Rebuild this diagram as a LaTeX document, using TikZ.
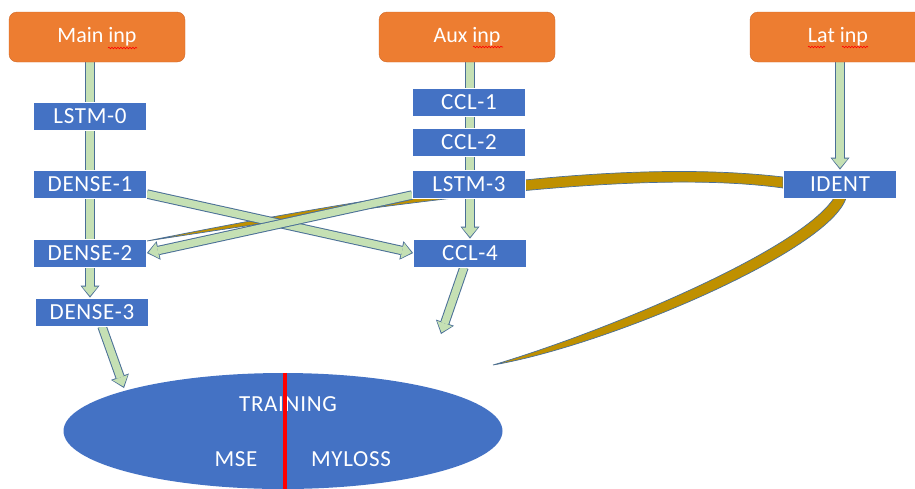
\documentclass[tikz,border=0pt]{standalone}
\usepackage{fontspec}
\setmainfont{Carlito}
\newfontfamily\boxfont[LetterSpace=3]{Carlito}
\usetikzlibrary{arrows.meta,shapes.geometric,backgrounds,decorations.pathmorphing}

\definecolor{inorange}{HTML}{ED7D31}
\definecolor{inedge}{HTML}{D0692A}
\definecolor{layerblue}{HTML}{4472C4}
\definecolor{flowgreen}{HTML}{C5E0B4}
\definecolor{flowedge}{HTML}{4A6F96}
\definecolor{skipgold}{HTML}{BF9000}

\tikzset{
	inbox/.style={draw=inedge, fill=inorange, rounded corners=8pt, minimum width=176pt, minimum height=50pt, text=white, font=\fontsize{22}{24}\selectfont},
	layer/.style={draw=white, line width=0.8pt, fill=layerblue, minimum width=113pt, minimum height=28pt, inner sep=0pt, text=white, font=\boxfont\fontsize{23}{24}\selectfont},
	lab/.style={text=white, font=\boxfont\fontsize{23}{24}\selectfont},
	flow/.style={line width=7.4pt, draw=flowgreen, shorten >=1.6pt, -{Triangle[width=16pt,length=9.5pt,line width=0pt]},
		preaction={draw=flowedge, line width=9.4pt, shorten >=0pt, -{Triangle[width=19pt,length=12pt,line width=0pt]}}},
	skip/.style={fill=skipgold, draw=flowedge, line width=0.7pt},
	spell/.style={red, line width=0.6pt, decorate, decoration={snake, segment length=3pt, amplitude=0.8pt}},
}

\begin{document}
\begin{tikzpicture}[x=1pt, y=-1pt]

	\useasboundingbox (0,0) rectangle (915,488);

	% inputs
	\node[inbox] (mainin) at (97,37) {Main inp};
	\node[inbox] (auxin) at (467,37) {Aux inp};
	\node[inbox] (latin) at (838,37) {Lat inp};

	% spell-check squiggles
	\draw[spell] ([xshift=11pt,yshift=-11pt]mainin.center) -- ++(29,0);
	\draw[spell] ([xshift=6pt,yshift=-10pt]auxin.center) -- ++(30,0);
	\draw[spell] ([xshift=-30pt,yshift=-10pt]latin.center) -- ++(17,0);
	\draw[spell] ([xshift=4pt,yshift=-10pt]latin.center) -- ++(26,0);

	% main branch
	\node[layer] (lstm0) at (90,116) {LSTM-0};
	\node[layer] (dense1) at (90,184) {DENSE-1};
	\node[layer] (dense2) at (90,253) {DENSE-2};
	\node[layer] (dense3) at (92,312) {DENSE-3};

	% aux branch
	\node[layer] (ccl1) at (469,102) {CCL-1};
	\node[layer] (ccl2) at (469,142) {CCL-2};
	\node[layer] (lstm3) at (469,184) {LSTM-3};
	\node[layer] (ccl4) at (470,253) {CCL-4};

	\node[layer] (ident) at (840,184) {IDENT};

	% training block
	\node[ellipse, fill=layerblue, minimum width=439pt, minimum height=116pt] (train) at (283,431) {};
	\node[lab] (traintxt) at (288,404) {TRAINING};
	\node[lab] (mse) at (236,459) {MSE};
	\node[lab] (myloss) at (351,459) {MYLOSS};
	\draw[red, line width=3.2pt] ([xshift=2pt]train.north) -- ([xshift=2pt]train.south);

	\coordinate (c4end) at (441,334);
	\coordinate (t1) at (124,388);

	\begin{scope}[on background layer]
		% skip connections from IDENT
		\draw[skip] (783,177) .. controls (620,158) and (400,190) .. (147,241)
			.. controls (400,202) and (640,168) .. (783,188) -- cycle;
		\draw[skip] (834,198) .. controls (800,250) and (610,330) .. (493,365)
			.. controls (610,345) and (830,250) .. (846,198) -- cycle;

		\draw[flow] (lstm0 |- mainin.south) -- (lstm0 |- dense3.north);
		\draw[flow] (ccl4 |- auxin.south) -- (ccl4.north);
		\draw[flow] (ident |- latin.south) -- (ident.north);
		\draw[flow] ([yshift=-10pt]dense1.east) -- (ccl4.west);
		\draw[flow] ([yshift=-11pt]lstm3.west) -- (dense2.east);
		\draw[flow] ([xshift=-6pt]ccl4.south) -- (c4end);
		\draw[flow] ([xshift=10pt]dense3.south) -- (t1);
	\end{scope}

\end{tikzpicture}
\end{document}
